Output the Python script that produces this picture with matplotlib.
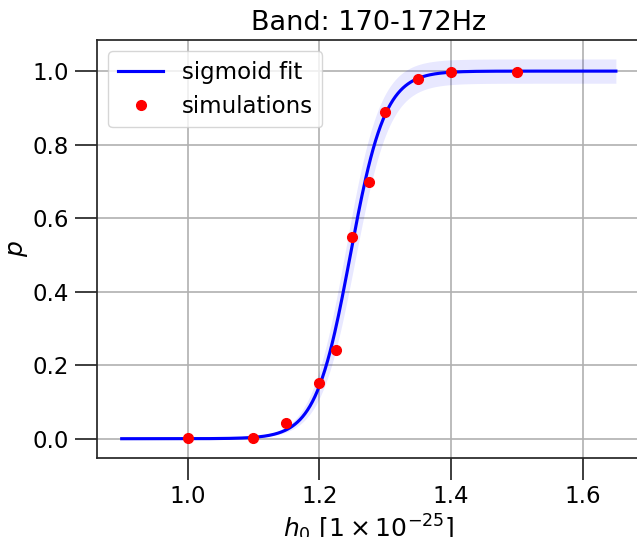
import numpy as np
import matplotlib
matplotlib.use("Agg")
import matplotlib.pyplot as plt

# simulation results
h0_sim = [1.0, 1.1, 1.15, 1.2, 1.225, 1.25, 1.275, 1.3, 1.35, 1.4, 1.5]
p_sim = [0.003, 0.003, 0.043, 0.152, 0.242, 0.549, 0.698, 0.888, 0.978, 0.997, 0.997]

# sigmoid fit parameters
fit_amp = 1.0
fit_amp_err = 0.033
fit_x0 = 1.247
fit_x0_err = 0.007
fit_k = 38.0
x_range = (0.9, 1.65)

title = "Band: 170-172Hz"
xlabel = r"$h_0$ [$1\times10^{-25}$]"
ylabel = r"$p$"

x = np.linspace(x_range[0], x_range[1], 400)
def sig(xx, a, x0, k):
    return a / (1.0 + np.exp(-k * (xx - x0)))

y_fit = sig(x, fit_amp, fit_x0, fit_k)
y_lo = sig(x, fit_amp - fit_amp_err, fit_x0 + fit_x0_err, fit_k)
y_hi = sig(x, fit_amp + fit_amp_err, fit_x0 - fit_x0_err, fit_k)

fig = plt.figure(figsize=(6.37, 5.37), dpi=100)
ax = fig.add_axes([97 / 637, 79.3 / 537, 543.6 / 637, 417.7 / 537])

ax.fill_between(x, y_lo, y_hi, color="blue", alpha=0.09, linewidth=0)
ax.plot(x, y_fit, color="blue", lw=2.25, label="sigmoid fit", zorder=3)
ax.plot(h0_sim, p_sim, "o", color="red", ms=7, label="simulations", zorder=4)

ax.grid(True, color="#b0b0b0", lw=1.2)
ax.set_axisbelow(True)
ax.set_xticks([1.0, 1.2, 1.4, 1.6])
ax.set_yticks([0.0, 0.2, 0.4, 0.6, 0.8, 1.0])
ax.tick_params(labelsize=16.5, length=15.5, width=1.25, color=".15", pad=4.5)
for s in ax.spines.values():
    s.set_color(".15")
    s.set_linewidth(1.25)
ax.set_title(title, fontsize=19.5, pad=7)
ax.set_xlabel(xlabel, fontsize=18, labelpad=3)
ax.set_ylabel(ylabel, fontsize=18, labelpad=2)
ax.legend(loc="upper left", fontsize=16.5, framealpha=0.8, borderaxespad=0.5)

fig.savefig("out.png", dpi=100)
